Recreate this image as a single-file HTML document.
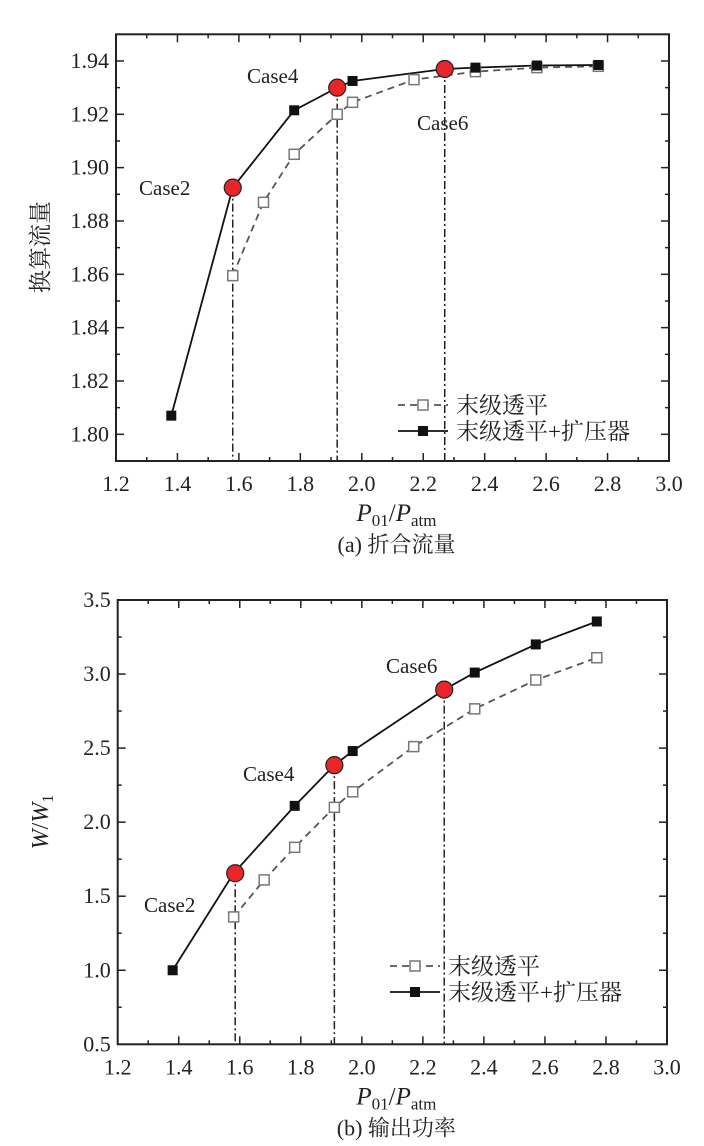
<!DOCTYPE html>
<html><head><meta charset="utf-8"><style>
body{margin:0;background:#fff}
svg{display:block}
text{font-family:"Liberation Serif","Noto Serif CJK SC",serif;fill:#222}
</style></head><body>
<svg id="s" width="704" height="1146" xmlns="http://www.w3.org/2000/svg"></svg>
<script>
const s=document.getElementById('s');let h='';
function chart(o){
 const X=v=>o.l+(v-1.2)*(o.r-o.l)/1.8, Y=v=>o.b-(v-o.y0)*(o.b-o.t)/(o.y1-o.y0);
 for(let i=0;i<=18;i++){const v=1.2+i*0.1,x=X(v),L=i%2?4:8;
  h+=`<line x1="${x}" y1="${o.b}" x2="${x}" y2="${o.b-L}" stroke="#222" stroke-width="1.5"/><line x1="${x}" y1="${o.t}" x2="${x}" y2="${o.t+L}" stroke="#222" stroke-width="1.5"/>`;
  if(i%2==0)h+=`<text x="${x}" y="${o.b+30}" font-size="22" text-anchor="middle">${v.toFixed(1)}</text>`;}
 const n=Math.round((o.y1-o.y0)/(o.ys/2));
 for(let i=0;i<=n;i++){const v=o.y0+i*o.ys/2,y=Y(v);
  const k=(v-o.m0)/o.ys, major=Math.abs(k-Math.round(k))<0.01, L=major?8:4;
  if(i>0&&i<n)h+=`<line x1="${o.l}" y1="${y}" x2="${o.l+L}" y2="${y}" stroke="#222" stroke-width="1.5"/><line x1="${o.r}" y1="${y}" x2="${o.r-L}" y2="${y}" stroke="#222" stroke-width="1.5"/>`;
  if(major)h+=`<text x="${o.l-7}" y="${y+7}" font-size="22" text-anchor="end">${v.toFixed(o.dec)}</text>`;}
 h+=`<rect x="${o.l}" y="${o.t}" width="${o.r-o.l}" height="${o.b-o.t}" fill="none" stroke="#222" stroke-width="2"/>`;
 o.red.forEach(p=>{h+=`<line x1="${X(p[0])}" y1="${Y(p[1])}" x2="${X(p[0])}" y2="${o.b}" stroke="#222" stroke-width="1.5" stroke-dasharray="8,3,2,3"/>`});
 const pts=a=>a.map(p=>X(p[0])+','+Y(p[1])).join(' ');
 h+=`<polyline points="${pts(o.hol)}" fill="none" stroke="#555" stroke-width="1.8" stroke-dasharray="7,5"/>`;
 h+=`<polyline points="${pts(o.sol)}" fill="none" stroke="#111" stroke-width="1.8"/>`;
 o.hol.forEach(p=>h+=`<rect x="${X(p[0])-5}" y="${Y(p[1])-5}" width="10" height="10" fill="#fff" stroke="#777" stroke-width="1.5"/>`);
 o.sol.forEach(p=>h+=`<rect x="${X(p[0])-5}" y="${Y(p[1])-5}" width="10" height="10" fill="#111"/>`);
 o.red.forEach(p=>h+=`<circle cx="${X(p[0])}" cy="${Y(p[1])}" r="8.5" fill="#e8262a" stroke="#222" stroke-width="1.2"/>`);
 o.cases.forEach(c=>h+=`<text x="${c[0]}" y="${c[1]}" font-size="21">${c[2]}</text>`);
 const ly=o.leg;
 h+=`<line x1="${o.lx}" y1="${ly}" x2="${o.lx+50}" y2="${ly}" stroke="#555" stroke-width="1.8" stroke-dasharray="7,5"/><rect x="${o.lx+20}" y="${ly-5}" width="10" height="10" fill="#fff" stroke="#777" stroke-width="1.5"/>`;
 h+=`<line x1="${o.lx}" y1="${ly+26}" x2="${o.lx+50}" y2="${ly+26}" stroke="#111" stroke-width="1.8"/><rect x="${o.lx+20}" y="${ly+21}" width="10" height="10" fill="#111"/>`;
 h+=`<text x="${o.lx+58}" y="${ly+8}" font-size="23">末级透平</text><text x="${o.lx+58}" y="${ly+34}" font-size="23">末级透平+扩压器</text>`;
 const cx=(o.l+o.r)/2;
 h+=`<text x="${cx+4}" y="${o.b+60}" font-size="25" text-anchor="middle"><tspan font-style="italic">P</tspan><tspan font-size="17" dy="5">01</tspan><tspan dy="-5">/</tspan><tspan font-style="italic">P</tspan><tspan font-size="17" dy="5">atm</tspan></text>`;
 h+=`<text x="${cx+4}" y="${o.b+91}" font-size="22" text-anchor="middle">${o.title}</text>`;
}
chart({l:116,r:669,t:34.3,b:461,y0:1.79,y1:1.95,ys:0.02,m0:1.80,dec:2,
 sol:[[1.38,1.807],[1.58,1.8925],[1.78,1.9215],[1.92,1.930],[1.97,1.9325],[2.27,1.937],[2.37,1.9375],[2.57,1.9383],[2.77,1.9385]],
 hol:[[1.58,1.8595],[1.68,1.887],[1.78,1.905],[1.92,1.920],[1.97,1.9245],[2.17,1.933],[2.37,1.936],[2.57,1.9375],[2.77,1.938]],
 red:[[1.58,1.8925],[1.92,1.930],[2.27,1.937]],
 cases:[[139,195,'Case2'],[247,83,'Case4'],[417,130,'Case6']],
 lx:398,leg:405,title:'(a) 折合流量'});
chart({l:117.7,r:667,t:600,b:1044.3,y0:0.5,y1:3.5,ys:0.5,m0:0.5,dec:1,
 sol:[[1.38,1.0],[1.58,1.655],[1.78,2.11],[1.91,2.385],[1.97,2.48],[2.27,2.895],[2.37,3.01],[2.57,3.2],[2.77,3.355]],
 hol:[[1.58,1.36],[1.68,1.61],[1.78,1.83],[1.91,2.1],[1.97,2.205],[2.17,2.51],[2.37,2.765],[2.57,2.96],[2.77,3.11]],
 red:[[1.585,1.655],[1.91,2.385],[2.27,2.895]],
 cases:[[144,912,'Case2'],[243,781,'Case4'],[386,673,'Case6']],
 lx:390,leg:966,title:'(b) 输出功率'});
h+=`<text transform="translate(48,247) rotate(-90)" font-size="23" text-anchor="middle">换算流量</text>`;
h+=`<text transform="translate(48,822) rotate(-90)" font-size="24" text-anchor="middle"><tspan font-style="italic">W</tspan>/<tspan font-style="italic">W</tspan><tspan font-size="16" dy="5">1</tspan></text>`;
s.innerHTML=h;
</script>
</body></html>
